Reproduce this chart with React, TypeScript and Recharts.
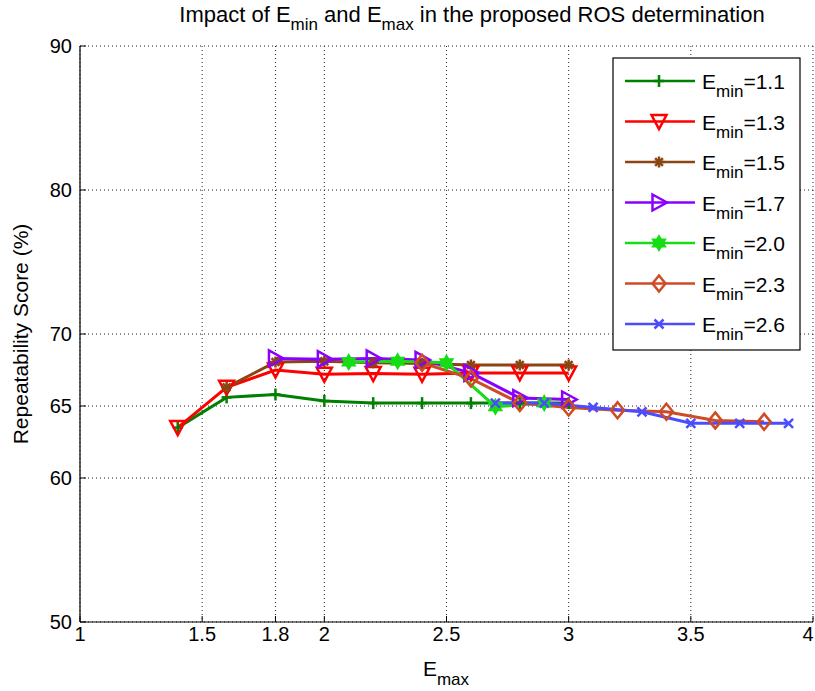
import React from "react";
import { LineChart, Line, XAxis, YAxis, CartesianGrid, Legend } from "recharts";

// E_max values and repeatability scores, one pair of arrays per E_min
const emax11 = [1.4, 1.6, 1.8, 2.0, 2.2, 2.4, 2.6, 2.8, 3.0];
const score11 = [63.5, 65.6, 65.8, 65.35, 65.2, 65.2, 65.2, 65.2, 65.2];

const emax13 = [1.4, 1.6, 1.8, 2.0, 2.2, 2.4, 2.6, 2.8, 3.0];
const score13 = [63.5, 66.3, 67.5, 67.2, 67.25, 67.2, 67.3, 67.3, 67.3];

const emax15 = [1.6, 1.8, 2.0, 2.2, 2.4, 2.6, 2.8, 3.0];
const score15 = [66.3, 68.05, 68.1, 68.0, 67.95, 67.85, 67.85, 67.85];

const emax17 = [1.8, 2.0, 2.2, 2.4, 2.6, 2.8, 3.0];
const score17 = [68.3, 68.25, 68.3, 68.2, 67.3, 65.55, 65.45];

const emax20 = [2.1, 2.3, 2.5, 2.7, 2.9];
const score20 = [68.05, 68.1, 68.0, 64.95, 65.2];

const emax23 = [2.4, 2.6, 2.8, 3.0, 3.2, 3.4, 3.6, 3.8];
const score23 = [68.0, 66.9, 65.2, 64.9, 64.7, 64.6, 64.0, 63.9];

const emax26 = [2.7, 2.9, 3.1, 3.3, 3.5, 3.7, 3.9];
const score26 = [65.2, 65.2, 64.9, 64.6, 63.8, 63.8, 63.8];

const xTicks = [1, 1.5, 1.8, 2, 2.5, 3, 3.5, 4];
const yTicks = [50, 60, 65, 70, 80, 90];

const FONT = "'Liberation Sans', Arial, Helvetica, sans-serif";

type Shape = "plus" | "triDown" | "asterisk" | "triRight" | "hexagram" | "diamond" | "cross";

const zip = (xs: number[], ys: number[]) => xs.map((x, i) => ({ emax: x, score: ys[i] }));

const series = [
  { id: "e11", label: "1.1", color: "#008000", shape: "plus" as Shape, data: zip(emax11, score11) },
  { id: "e13", label: "1.3", color: "#ff0000", shape: "triDown" as Shape, data: zip(emax13, score13) },
  { id: "e15", label: "1.5", color: "#8b4513", shape: "asterisk" as Shape, data: zip(emax15, score15) },
  { id: "e17", label: "1.7", color: "#8a00ff", shape: "triRight" as Shape, data: zip(emax17, score17) },
  { id: "e20", label: "2.0", color: "#16dd16", shape: "hexagram" as Shape, data: zip(emax20, score20) },
  { id: "e23", label: "2.3", color: "#cf4b26", shape: "diamond" as Shape, data: zip(emax23, score23) },
  { id: "e26", label: "2.6", color: "#4b4bff", shape: "cross" as Shape, data: zip(emax26, score26) },
];

function Marker({ cx, cy, shape, color }: { cx: number; cy: number; shape: Shape; color: string }) {
  if (cx == null || cy == null) return null;
  const sw = 2.5;
  switch (shape) {
    case "plus":
      return (
        <g stroke={color} strokeWidth={sw}>
          <line x1={cx - 5} y1={cy} x2={cx + 5} y2={cy} />
          <line x1={cx} y1={cy - 6} x2={cx} y2={cy + 6} />
        </g>
      );
    case "triDown":
      return (
        <polygon
          points={`${cx - 7.5},${cy - 6.5} ${cx + 7.5},${cy - 6.5} ${cx},${cy + 7.5}`}
          fill="none"
          stroke={color}
          strokeWidth={sw}
        />
      );
    case "triRight":
      return (
        <polygon
          points={`${cx - 6.5},${cy - 8} ${cx - 6.5},${cy + 8} ${cx + 8},${cy}`}
          fill="none"
          stroke={color}
          strokeWidth={sw}
        />
      );
    case "diamond":
      return (
        <polygon
          points={`${cx},${cy - 8} ${cx + 6.5},${cy} ${cx},${cy + 8} ${cx - 6.5},${cy}`}
          fill="none"
          stroke={color}
          strokeWidth={sw}
        />
      );
    case "asterisk": {
      const r = 5.5;
      const d = r * 0.7071;
      return (
        <g stroke={color} strokeWidth={2.5}>
          <line x1={cx - r} y1={cy} x2={cx + r} y2={cy} />
          <line x1={cx} y1={cy - r} x2={cx} y2={cy + r} />
          <line x1={cx - d} y1={cy - d} x2={cx + d} y2={cy + d} />
          <line x1={cx - d} y1={cy + d} x2={cx + d} y2={cy - d} />
        </g>
      );
    }
    case "hexagram": {
      const r = 7.5;
      const pt = (a: number) => `${cx + r * Math.cos((a * Math.PI) / 180)},${cy + r * Math.sin((a * Math.PI) / 180)}`;
      return (
        <g fill={color} stroke={color} strokeWidth={1.5}>
          <polygon points={[-90, 30, 150].map(pt).join(" ")} />
          <polygon points={[90, 210, 330].map(pt).join(" ")} />
        </g>
      );
    }
    case "cross":
      return (
        <g stroke={color} strokeWidth={2.5}>
          <line x1={cx - 4.5} y1={cy - 4.5} x2={cx + 4.5} y2={cy + 4.5} />
          <line x1={cx - 4.5} y1={cy + 4.5} x2={cx + 4.5} y2={cy - 4.5} />
        </g>
      );
  }
  return null;
}

function LegendBox() {
  return (
    <svg width={190} height={295} style={{ display: "block" }}>
      <rect x={1} y={1} width={187} height={292} fill="#fff" stroke="#000" strokeWidth={1.2} />
      {series.map((s, i) => {
        const y = 24 + i * 40.5;
        return (
          <g key={s.id}>
            <line x1={13} y1={y} x2={83} y2={y} stroke={s.color} strokeWidth={2.5} />
            <Marker cx={47} cy={y} shape={s.shape} color={s.color} />
            <text x={90} y={y + 8} fontFamily={FONT} fontSize={21} fill="#000">
              E
              <tspan fontSize={17} dy={8}>
                min
              </tspan>
              <tspan dy={-8}>={s.label}</tspan>
            </text>
          </g>
        );
      })}
    </svg>
  );
}

// x tick label; the last one is nudged left so it stays inside the picture
function XTick(props: any) {
  const { x, y, payload } = props;
  const last = payload.value === xTicks[xTicks.length - 1];
  return (
    <text
      x={last ? x - 5 : x}
      y={y}
      dy="0.71em"
      textAnchor="middle"
      fontFamily={FONT}
      fontSize={20}
      fill="#000"
    >
      {payload.value}
    </text>
  );
}

const tickStyle = { fill: "#000", fontSize: 20, fontFamily: FONT };

export default function App() {
  return (
    <div style={{ position: "absolute", left: 0, top: 0, width: 815, height: 691, background: "#fff" }}>
      <svg width={815} height={40} style={{ position: "absolute", left: 0, top: 0, zIndex: 2 }}>
        <text x={472} y={22} textAnchor="middle" fontFamily={FONT} fontSize={22} fill="#000">
          Impact of E
          <tspan fontSize={17} dy={8}>
            min
          </tspan>
          <tspan dy={-8}> and E</tspan>
          <tspan fontSize={17} dy={8}>
            max
          </tspan>
          <tspan dy={-8}> in the proposed ROS determination</tspan>
        </text>
      </svg>
      <LineChart width={815} height={691} margin={{ top: 46, right: 2, bottom: 9, left: 0 }}>
        <CartesianGrid stroke="#222" strokeDasharray="1 3" strokeWidth={1} />
        <XAxis
          dataKey="emax"
          type="number"
          domain={[1, 4]}
          ticks={xTicks}
          allowDataOverflow
          height={60}
          tick={<XTick />}
          tickSize={-6}
          tickMargin={11}
          stroke="#000"
          axisLine={{ stroke: "#000", strokeWidth: 1.2 }}
          tickLine={{ stroke: "#000" }}
          interval={0}
          label={{
            content: () => (
              <text x={446} y={676} textAnchor="middle" fontFamily={FONT} fontSize={21} fill="#000">
                E
                <tspan fontSize={17} dy={9}>
                  max
                </tspan>
              </text>
            ),
          }}
        />
        <XAxis
          xAxisId="top"
          orientation="top"
          type="number"
          domain={[1, 4]}
          ticks={xTicks}
          height={0}
          tick={false}
          tickSize={-6}
          axisLine={{ stroke: "#000", strokeWidth: 1.2 }}
          tickLine={{ stroke: "#000" }}
          interval={0}
        />
        <YAxis
          type="number"
          domain={[50, 90]}
          ticks={yTicks}
          allowDataOverflow
          width={80}
          tick={tickStyle}
          tickSize={-6}
          tickMargin={14}
          axisLine={{ stroke: "#000", strokeWidth: 1.2 }}
          tickLine={{ stroke: "#000" }}
          interval={0}
          label={{
            content: () => (
              <text
                x={28}
                y={334}
                transform="rotate(-90, 28, 334)"
                textAnchor="middle"
                fontFamily={FONT}
                fontSize={21}
                fill="#000"
              >
                Repeatability Score (%)
              </text>
            ),
          }}
        />
        <YAxis
          yAxisId="right"
          orientation="right"
          type="number"
          domain={[50, 90]}
          ticks={yTicks}
          width={0}
          tick={false}
          tickSize={-6}
          axisLine={{ stroke: "#000", strokeWidth: 1.2 }}
          tickLine={{ stroke: "#000" }}
          interval={0}
        />
        {series.map((s) => (
          <Line
            key={s.id}
            data={s.data}
            dataKey="score"
            name={s.id}
            type="linear"
            stroke={s.color}
            strokeWidth={3}
            isAnimationActive={false}
            dot={(p: any) => (
              <Marker key={`${s.id}-${p.index}`} cx={p.cx} cy={p.cy} shape={s.shape} color={s.color} />
            )}
            activeDot={false}
          />
        ))}
        <Legend
          layout="vertical"
          align="center"
          verticalAlign="middle"
          width={190}
          height={295}
          content={() => <LegendBox />}
          wrapperStyle={{ left: 612, top: 57, width: 190, height: 295 }}
        />
      </LineChart>
    </div>
  );
}
